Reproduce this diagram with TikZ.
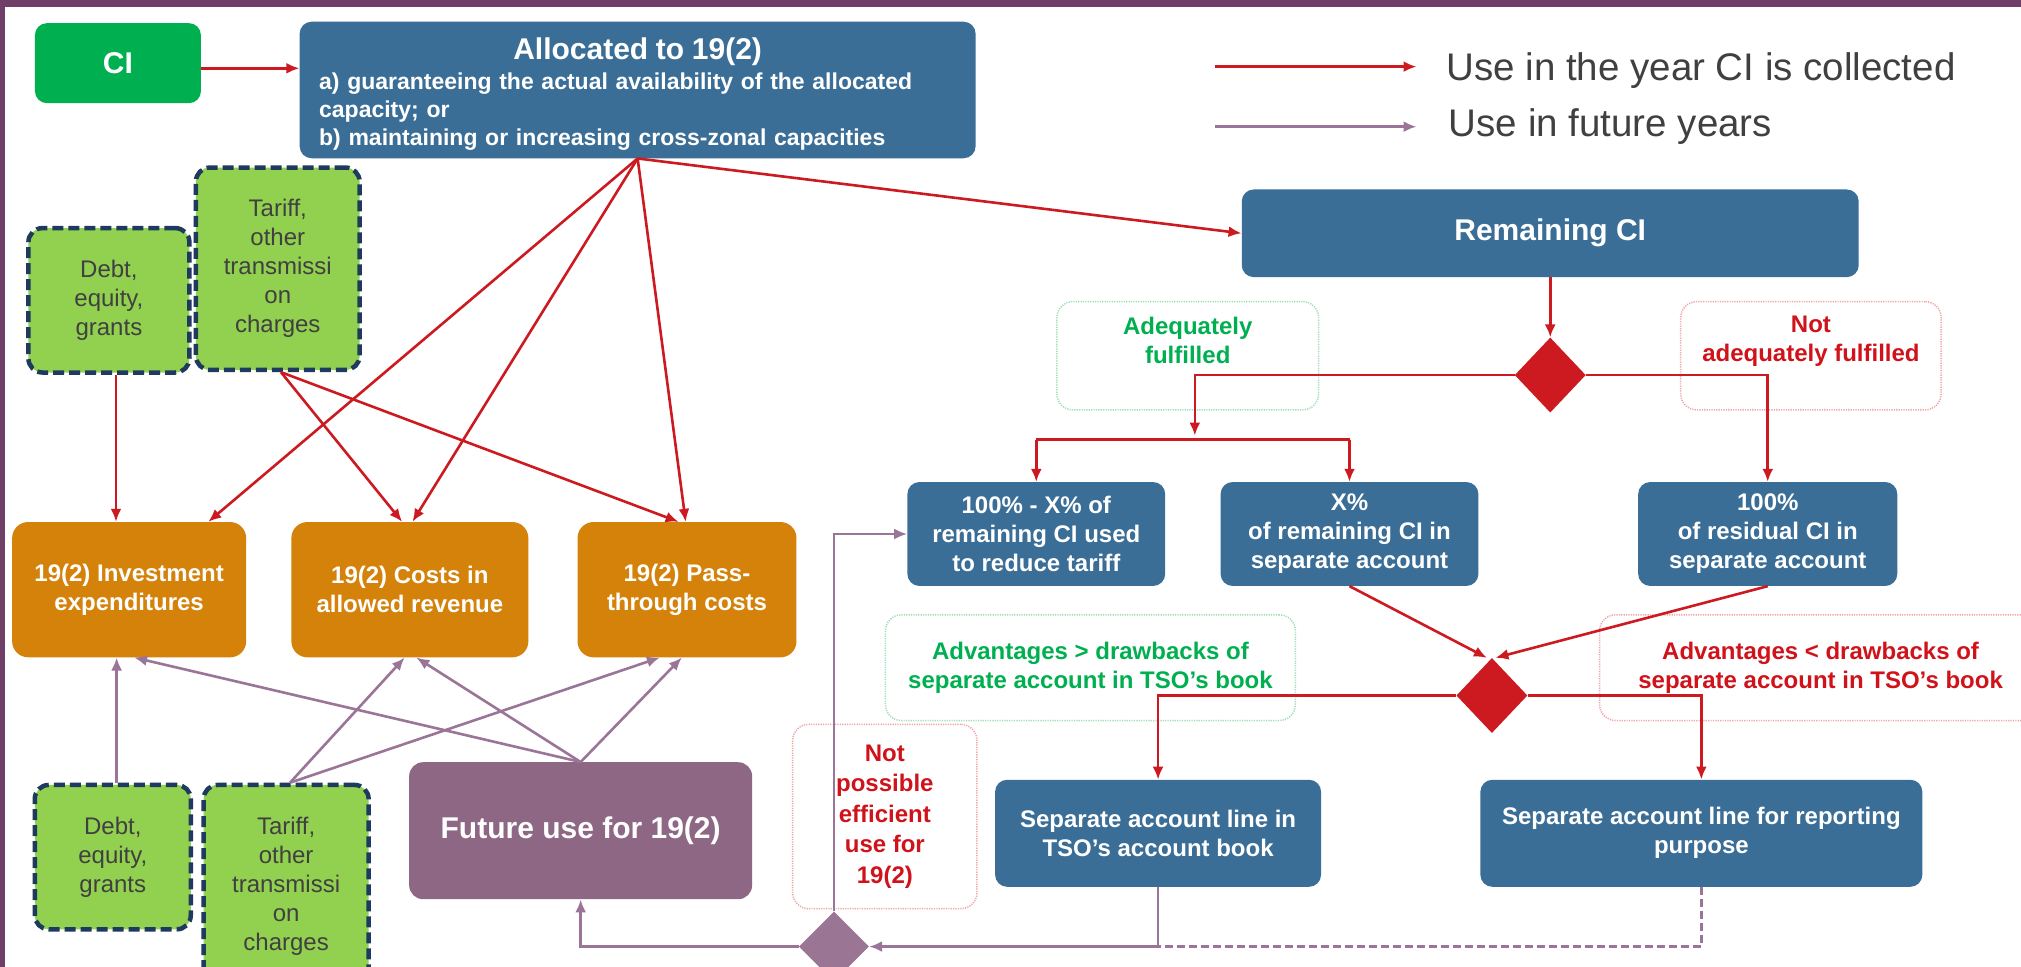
\documentclass[tikz,border=0pt]{standalone}
\usepackage{fontspec}
\setmainfont{Liberation Sans}
\usetikzlibrary{arrows.meta,shapes.geometric,calc}
\definecolor{cBlue}{HTML}{3B6E97}
\definecolor{cOrange}{HTML}{D5820B}
\definecolor{cCI}{HTML}{00B050}
\definecolor{cLGreen}{HTML}{92D050}
\definecolor{cNavy}{HTML}{1F3A5F}
\definecolor{cFuture}{HTML}{8E6785}
\definecolor{cPur}{HTML}{9B7597}
\definecolor{cPurDia}{HTML}{9B7694}
\definecolor{cFrame}{HTML}{6F3F68}
\definecolor{cRed}{HTML}{CC1A20}
\definecolor{cLGT}{HTML}{00B050}
\definecolor{cLGB}{HTML}{9FDDB5}
\definecolor{cLRT}{HTML}{D0121B}
\definecolor{cLRB}{HTML}{F0A3A8}
\definecolor{cGray}{HTML}{404040}
\begin{document}
\begin{tikzpicture}[x=1.289pt,y=-1.289pt,
  base/.style={rounded corners=12pt, inner sep=3pt, align=center, text=white, font=\bfseries\fontsize{24}{29}\selectfont},
  bluebox/.style={base, fill=cBlue},
  orangebox/.style={base, fill=cOrange, rounded corners=16pt},
  cibox/.style={base, fill=cCI, font=\bfseries\fontsize{30}{34}\selectfont},
  futbox/.style={base, fill=cFuture, rounded corners=14pt, font=\bfseries\fontsize{30}{34}\selectfont},
  greenbox/.style={rounded corners=14pt, fill=cLGreen, draw=cNavy, line width=4.5pt, dash pattern=on 11pt off 5pt, align=center, inner sep=2pt, text=cGray, font=\fontsize{24}{29}\selectfont},
  lblg/.style={rounded corners=16pt, draw=cLGB, line width=1.5pt, dash pattern=on 1.2pt off 1.2pt, align=center, text=cLGT, font=\bfseries\fontsize{24}{29}\selectfont},
  lblr/.style={lblg, draw=cLRB, text=cLRT},
  lbltxt/.style={inner sep=0pt, align=center, font=\bfseries\fontsize{24}{29}\selectfont},
  reddia/.style={diamond, fill=cRed, inner sep=0pt, minimum width=71pt, minimum height=75pt},
  purdia/.style={diamond, fill=cPurDia, inner sep=0pt, minimum width=70pt, minimum height=70pt},
  redln/.style={draw=cRed, line width=2.6pt},
  redarr/.style={redln, -{Latex[length=13pt,width=11pt]}},
  purln/.style={draw=cPur, line width=2.6pt},
  purarr/.style={purln, -{Latex[length=13pt,width=11pt]}},
  legtxt/.style={anchor=base west, inner sep=0pt, text=cGray, font=\fontsize{38.5}{46}\selectfont}
]
\path[use as bounding box] (0,0) rectangle (1568,750);
\clip (0,0) rectangle (1568,750);
\fill[white] (0,0) rectangle (1568,750);
\fill[cFrame] (0,0) rectangle (1568,5.4);
\fill[cFrame] (0,0) rectangle (4,750);

% ---- top-left nodes
\node[cibox, minimum width=166pt, minimum height=80pt] (ci) at (91.5,49) {CI};
\node[bluebox, minimum width=676pt, minimum height=136.6pt, text width=637pt, inner xsep=19.3pt, align=left, font=\bfseries\fontsize{23}{28}\selectfont] (alloc) at (494.7,69.8)
{\makebox[\linewidth][c]{\rule{0pt}{30pt}\fontsize{30}{34}\selectfont Allocated to 19(2)}\\[2pt]
a) guaranteeing the actual availability of the allocated\\
capacity; or\\
b) maintaining or increasing cross-zonal capacities};

\node[greenbox, minimum width=161pt, minimum height=144.4pt] (debt1) at (84.5,233) {Debt,\\equity,\\grants};
\node[greenbox, minimum width=163.7pt, minimum height=202.4pt] (tar1) at (215.5,208.5) {Tariff,\\other\\transmissi\\on\\charges};

\node[orangebox, minimum width=234pt, minimum height=135.3pt] (inv) at (100.2,457.5) {19(2) Investment\\expenditures};
\node[orangebox, minimum width=237pt, minimum height=135.3pt] (cost) at (318,457.5) {19(2) Costs in\\allowed revenue};
\node[orangebox, minimum width=219pt, minimum height=135.3pt] (pass) at (533,457.5) {19(2) Pass-\\through costs};

% ---- right part
\node[bluebox, minimum width=617pt, minimum height=87.7pt, font=\bfseries\fontsize{30}{34}\selectfont] (rem) at (1202.75,181) {Remaining CI};
\node[lblg, minimum width=261.7pt, minimum height=108.3pt] (adq) at (921.5,276) {};
\node[lbltxt, text=cLGT] (adqt) at (921.5,264.4) {Adequately\\fulfilled};
\node[lblr, minimum width=260.4pt, minimum height=108.3pt] (nadq) at (1405,276) {};
\node[lbltxt, text=cLRT] (nadqt) at (1405,264.4) {Not\\adequately fulfilled};
\node[reddia] (d1) at (1202.75,291) {};

\node[bluebox, minimum width=257.8pt, minimum height=103.9pt] (b1) at (804,414.3) {100\% - X\% of\\remaining CI used\\to reduce tariff};
\node[bluebox, minimum width=257.8pt, minimum height=103.9pt] (b2) at (1047,414.3) {X\%\\of remaining CI in\\separate account};
\node[bluebox, minimum width=259.1pt, minimum height=103.9pt] (b3) at (1371.5,414.3) {100\%\\of residual CI in\\separate account};

\node[lblg, minimum width=410pt, minimum height=105.7pt] (advg) at (846,518) {Advantages > drawbacks of\\separate account in TSO’s book};
\node[lblr, minimum width=442pt, minimum height=105.7pt] (advr) at (1412.5,518) {Advantages < drawbacks of\\separate account in TSO’s book};
\node[reddia] (d2) at (1157.5,539.6) {};

\node[bluebox, minimum width=326pt, minimum height=107pt] (sept) at (898.5,646.5) {Separate account line in\\TSO’s account book};
\node[bluebox, minimum width=442pt, minimum height=107pt] (sepr) at (1320,646.5) {Separate account line for reporting\\purpose};

\node[lblr, minimum width=184.3pt, minimum height=184.3pt, font=\bfseries\fontsize{24}{30.5}\selectfont] (notp) at (686.5,633.5) {Not\\possible\\efficient\\use for\\19(2)};
\node[purdia] (d3) at (647,734.4) {};

% ---- bottom-left nodes
\node[futbox, minimum width=343pt, minimum height=137pt] (fut) at (450.5,644.5) {Future use for 19(2)};
\node[greenbox, minimum width=156pt, minimum height=144.4pt] (debt2) at (87.5,665) {Debt,\\equity,\\grants};
\node[greenbox, minimum width=165pt, minimum height=202.4pt] (tar2) at (222,687.5) {Tariff,\\other\\transmissi\\on\\charges};

% ---- legend
\coordinate (lg1a) at (942.6,51.7);
\coordinate (lg1b) at (1099,51.7);
\coordinate (lg2a) at (942.6,98.3);
\coordinate (lg2b) at (1099,98.3);
\draw[redarr] (lg1a) -- (lg1b);
\draw[purarr] (lg2a) -- (lg2b);
\node[legtxt] (lgt1) at (1122,62.2) {Use in the year CI is collected};
\node[legtxt] (lgt2) at (1124,106) {Use in future years};

% ---- red connectors
\draw[redarr] (ci.east |- 0,53) -- (alloc.west |- 0,53);
\draw[redarr] (alloc.south) -- (161.6,0 |- inv.north);
\draw[redarr] (alloc.south) -- (320,0 |- cost.north);
\draw[redarr] (alloc.south) -- (532,0 |- pass.north);
\draw[redarr] (alloc.south) -- (rem.west);
\draw[redarr] (90,0 |- debt1.south) -- (90,0 |- inv.north);
\draw[redarr] (218,0 |- tar1.south) -- (312,0 |- cost.north);
\draw[redarr] (218,0 |- tar1.south) -- (526.5,0 |- pass.north);

\draw[redarr] (rem.south) -- (d1.north);
\coordinate (adqend) at (927,338);
\coordinate (bar) at (927,341);
\draw[redarr] (d1.west) -| (adqend);
\draw[redln] (b1.north |- bar) -- (b2.north |- bar);
\draw[redarr] (b1.north |- bar) -- (b1.north);
\draw[redarr] (b2.north |- bar) -- (b2.north);
\draw[redarr] (d1.east) -| (b3.north);
\draw[redarr] (b2.south) -- ([xshift=-5pt]d2.north);
\draw[redarr] (b3.south) -- ([xshift=3.5pt]d2.north);
\draw[redarr] (d2.west) -| (sept.north);
\draw[redarr] (d2.east) -| (sepr.north);

% ---- purple connectors
\draw[purarr] (90.5,0 |- debt2.north) -- (90.5,0 |- inv.south);
\draw[purarr] (fut.north) -- (104,0 |- inv.south);
\draw[purarr] (fut.north) -- (323,0 |- cost.south);
\draw[purarr] (fut.north) -- (529,0 |- pass.south);
\draw[purarr] (225,0 |- tar2.north) -- (314,0 |- cost.south);
\draw[purarr] (225,0 |- tar2.north) -- (512,0 |- pass.south);
\draw[purarr] (sept.south) |- (d3.east);
\draw[purln, dash pattern=on 8pt off 4pt] (sepr.south) |- (sept.south |- d3.east);
\draw[purarr] (d3.west) -| (fut.south);
\draw[purarr] (d3.north) |- (b1.west);
\end{tikzpicture}
\end{document}
